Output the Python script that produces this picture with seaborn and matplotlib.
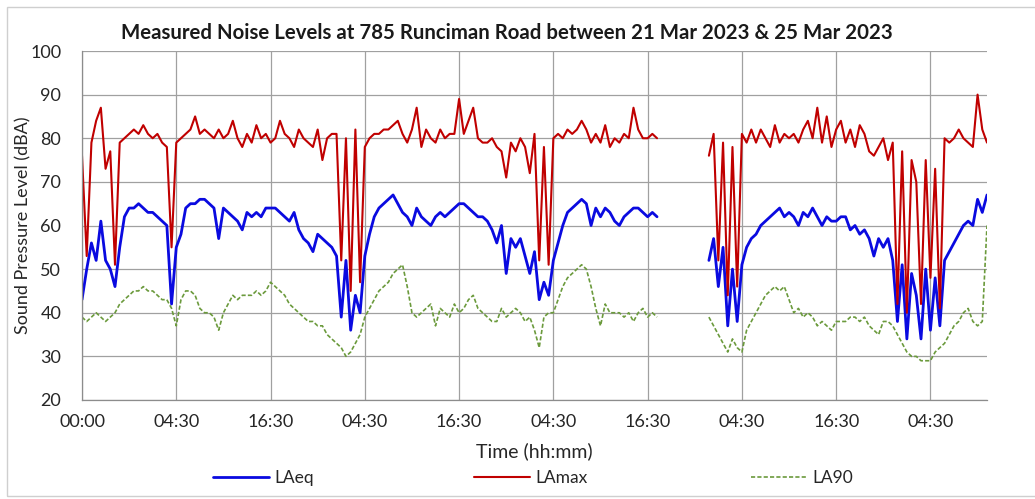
import numpy as np
import pandas as pd
import matplotlib
matplotlib.use("Agg")
import matplotlib.pyplot as plt
from matplotlib.lines import Line2D
from matplotlib.patches import Rectangle
import seaborn as sns

# Category axis: 20 samples between consecutive labelled ticks
tick_labels = ["00:00", "04:30", "16:30", "04:30", "16:30",
               "04:30", "16:30", "04:30", "16:30", "04:30"]
SAMPLES_PER_TICK = 20
segment_starts = [0, 133]          # logger gap between the two runs

# LAeq, dBA
laeq_run1 = [43, 50, 56, 52, 61, 52, 50, 46, 55, 62, 64, 64, 65, 64, 63, 63, 62, 61, 60, 42,
             55, 58, 64, 65, 65, 66, 66, 65, 64, 57, 64, 63, 62, 61, 59, 63, 62, 63, 62, 64,
             64, 64, 63, 62, 61, 63, 59, 57, 56, 54, 58, 57, 56, 55, 53, 39, 52, 36, 44, 40,
             53, 58, 62, 64, 65, 66, 67, 65, 63, 62, 60, 64, 62, 61, 60, 62, 63, 62, 63, 64,
             65, 65, 64, 63, 62, 62, 61, 59, 56, 60, 49, 57, 55, 57, 53, 49, 54, 43, 47, 44,
             52, 56, 60, 63, 64, 65, 66, 65, 60, 64, 62, 64, 63, 61, 60, 62, 63, 64, 64, 63,
             62, 63, 62]
laeq_run2 = [52, 57, 46, 55, 37, 50, 38, 51, 55, 57, 58, 60, 61, 62, 63, 64, 62, 63, 62, 60,
             63, 62, 64, 62, 60, 62, 61, 61, 62, 62, 59, 60, 58, 59, 57, 53, 57, 55, 57, 52,
             38, 51, 34, 49, 44, 34, 50, 36, 48, 37, 52, 54, 56, 58, 60, 61, 60, 66, 63, 67]

# LAmax, dBA
lamax_run1 = [76, 53, 79, 84, 87, 73, 77, 51, 79, 80, 81, 82, 81, 83, 81, 80, 81, 79, 78, 55,
              79, 80, 81, 82, 85, 81, 82, 81, 80, 82, 80, 81, 84, 80, 78, 81, 79, 83, 80, 81,
              79, 80, 84, 81, 80, 78, 82, 80, 79, 78, 82, 75, 80, 81, 81, 52, 80, 45, 82, 47,
              78, 80, 81, 81, 82, 82, 83, 84, 81, 79, 82, 87, 78, 82, 80, 79, 82, 80, 81, 81,
              89, 81, 84, 87, 80, 79, 79, 80, 78, 77, 71, 79, 77, 80, 78, 72, 81, 52, 78, 51,
              80, 81, 80, 82, 81, 82, 84, 82, 79, 81, 79, 83, 78, 80, 79, 81, 80, 87, 82, 80,
              80, 81, 80]
lamax_run2 = [76, 81, 52, 79, 44, 78, 46, 81, 79, 82, 79, 82, 80, 78, 83, 79, 81, 80, 81, 79,
              82, 84, 80, 87, 79, 85, 78, 82, 84, 79, 82, 78, 83, 81, 77, 76, 78, 80, 75, 79,
              42, 77, 40, 75, 70, 42, 75, 48, 73, 41, 80, 79, 80, 82, 80, 79, 78, 90, 82, 79]

# LA90, dBA
la90_run1 = [39, 38, 39, 40, 39, 38, 39, 40, 42, 43, 44, 45, 45, 46, 45, 45, 44, 43, 43, 41,
             37, 43, 45, 45, 44, 41, 40, 40, 39, 36, 40, 42, 44, 43, 44, 44, 44, 45, 44, 45,
             47, 46, 45, 44, 42, 41, 40, 39, 38, 38, 37, 37, 35, 34, 33, 32, 30, 31, 33, 35,
             39, 41, 43, 45, 46, 47, 49, 50, 51, 46, 40, 39, 40, 41, 42, 37, 41, 40, 39, 42,
             40, 41, 43, 44, 41, 40, 39, 38, 38, 41, 39, 40, 41, 40, 38, 39, 36, 32, 39, 40,
             40, 43, 46, 48, 49, 50, 51, 50, 46, 41, 37, 42, 40, 40, 40, 39, 40, 38, 40, 41,
             39, 40, 39]
la90_run2 = [39, 37, 35, 33, 31, 34, 32, 31, 36, 38, 40, 42, 44, 45, 46, 45, 46, 43, 40, 41,
             39, 40, 39, 37, 38, 37, 36, 38, 38, 38, 39, 39, 38, 39, 37, 36, 35, 38, 38, 37,
             35, 33, 31, 30, 30, 29, 29, 29, 31, 32, 33, 35, 37, 38, 40, 41, 38, 37, 38, 60]

series = {
    "LAeq": [laeq_run1, laeq_run2],
    "LAmax": [lamax_run1, lamax_run2],
    "LA90": [la90_run1, la90_run2],
}

rows = []
for name, runs in series.items():
    for seg, (start, vals) in enumerate(zip(segment_starts, runs)):
        for k, v in enumerate(vals):
            rows.append({"series": name, "segment": seg, "idx": start + k, "dBA": v})
df = pd.DataFrame(rows)

sns.set_style("white")
plt.rcParams["font.family"] = ["Lato", "DejaVu Sans"]

W, H = 1035, 499
fig = plt.figure(figsize=(W / 100, H / 100), dpi=100)
ax = fig.add_axes([82 / W, 1 - 400 / H, (987 - 82) / W, (400 - 51) / H])

styles = {
    "LAeq": dict(color="#0a0ae0", lw=2.0, ls="-"),
    "LAmax": dict(color="#c00000", lw=1.5, ls="-"),
    "LA90": dict(color="#6b9a3c", lw=1.2, ls=(0, (2.5, 1.3))),
}
for name in ["LAeq", "LAmax", "LA90"]:
    st = styles[name]
    sns.lineplot(data=df[df["series"] == name], x="idx", y="dBA", units="segment",
                 estimator=None, color=st["color"], linewidth=st["lw"],
                 linestyle=st["ls"], legend=False, ax=ax)

n_last = segment_starts[1] + len(laeq_run2) - 1
ax.set_xlim(0, n_last)
ax.set_ylim(20, 100)
ax.set_xticks(np.arange(len(tick_labels)) * SAMPLES_PER_TICK)
ax.set_xticklabels(tick_labels)
ax.set_yticks(np.arange(20, 101, 10))

grid_c = "#a0a0a0"
ax.grid(True, color=grid_c, lw=0.9)
for s in ["top", "right"]:
    ax.spines[s].set_visible(False)
for s in ["left", "bottom"]:
    ax.spines[s].set_color("#8c8c8c")
    ax.spines[s].set_linewidth(0.9)
ax.tick_params(axis="both", colors="#8c8c8c", labelcolor="#262626", labelsize=13,
               direction="out", width=0.9)
ax.tick_params(axis="y", length=6, pad=9)
ax.tick_params(axis="x", length=5, pad=5)

ax.set_xlabel("Time (hh:mm)", fontsize=14, color="#262626")
ax.xaxis.set_label_coords(0.5, (400 - 451) / 349, transform=ax.transAxes)
ax.set_ylabel("Sound Pressure Level (dBA)", fontsize=13, color="#262626")
ax.yaxis.set_label_coords((23 - 82) / 905, 0.5, transform=ax.transAxes)
ax.xaxis.label.set_va("center")
ax.yaxis.label.set_va("center")

fig.text(507 / W, 1 - 33 / H, "Measured Noise Levels at 785 Runciman Road between 21 Mar 2023 & 25 Mar 2023",
         ha="center", va="center", fontsize=14.7, fontweight="bold", color="#1a1a1a")

# legend entries placed individually along the bottom
legend_x = [213, 474, 751]
for name, x0 in zip(["LAeq", "LAmax", "LA90"], legend_x):
    st = styles[name]
    h = Line2D([], [], color=st["color"], lw=st["lw"], ls=st["ls"])
    fig.legend([h], [name], loc="center left", bbox_to_anchor=(x0 / W, 1 - 478 / H),
               frameon=False, fontsize=12.5, handlelength=3.2, handletextpad=0.35,
               borderpad=0, borderaxespad=0, labelcolor="#262626")

fig.add_artist(Rectangle((7 / W, 3 / H), 1.0, 1 - 10 / H, transform=fig.transFigure,
                         fill=False, ec="#cfcfcf", lw=1.0))

fig.savefig("out.png", dpi=100, facecolor="white")
